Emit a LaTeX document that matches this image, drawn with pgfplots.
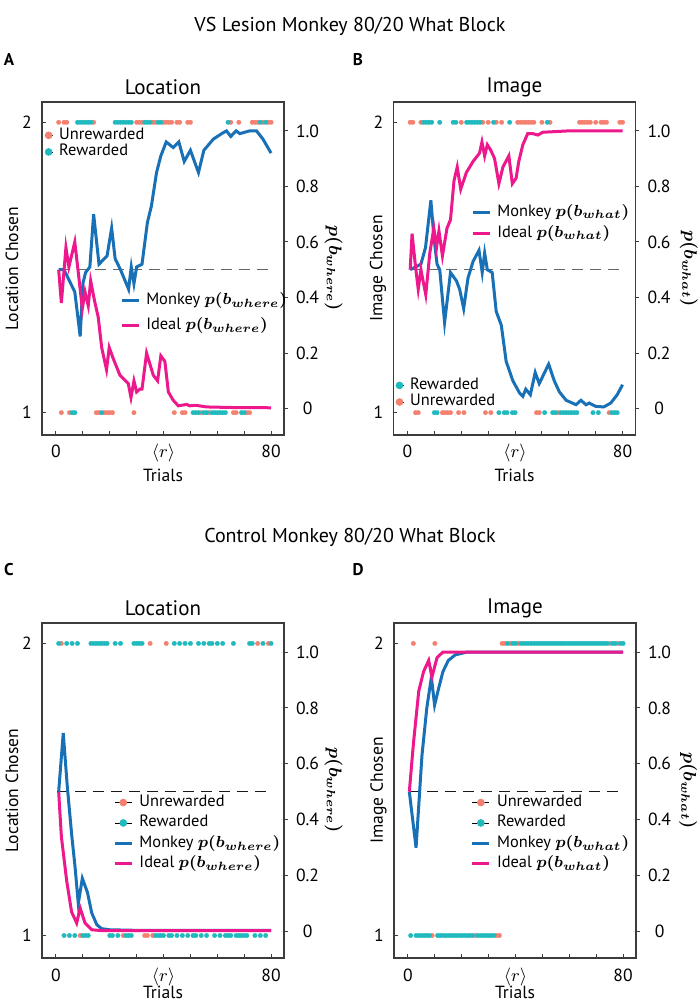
\documentclass[border=0pt]{standalone}
\usepackage{fontspec}
\setmainfont{PT Sans}
\usepackage{bm}
\usepackage{pgfplots}
\pgfplotsset{compat=1.18}
\definecolor{mblue}{RGB}{24,112,182}
\definecolor{mpink}{RGB}{236,24,140}
\definecolor{salm}{RGB}{244,128,112}
\definecolor{tealc}{RGB}{32,186,190}
\definecolor{axc}{RGB}{60,60,60}
\pgfplotsset{
  panel/.style={scale only axis, width=121pt, xmin=-5.2, xmax=84.8,
     axis line style={axc, line width=0.6pt}, tick style={axc, line width=0.5pt},
     major tick length=1.8pt, tick align=inside,
     font=\fontsize{8.8}{10}\selectfont,
     legend cell align=left,
     legend style={draw=none, fill=none, inner xsep=0pt, inner ysep=0pt, column sep=2.5pt,
        nodes={inner sep=0.6pt, text height=5.5pt, text depth=1.6pt},
        font=\fontsize{8.2}{9.6}\selectfont, anchor=north west}},
  leftax/.style={panel, ymin=0.923, ymax=2.07, ytick={1,2}, yticklabels={1,2},
     xtick={0,10,20,30,40,50,60,70,80}, xticklabels={0,,,,{$\langle r\rangle$},,,,80},
     xtick pos=left, ytick pos=left,
     yticklabel style={anchor=center, xshift=-7.5pt},
     xticklabel style={anchor=base, yshift=-11.5pt},
     xlabel={Trials},
     every axis title shift=0pt,
     title style={at={(axis description cs:0.5,1.043)}, anchor=center, font=\fontsize{10.5}{12}\selectfont}},
  rightax/.style={panel, ymin=-0.095, ymax=1.104, axis y line*=right, hide x axis,
     tick align=outside,
     ytick={0,0.2,0.4,0.6,0.8,1}, yticklabels={0,0.2,0.4,0.6,0.8,1.0},
     yticklabel style={anchor=center, xshift=10pt}},
  pdots/.style={only marks, color=#1, mark=*, mark size=1.15pt, mark options={draw=#1, fill=#1, line width=0.1pt}, forget plot},
  pcurve/.style={color=#1, line width=1.5pt, forget plot},
  pmid/.style={color=#1, dash pattern=on 5.5pt off 3.5pt, line width=0.7pt, forget plot},
  sdot/.style={legend image code/.code={\path (0pt,0pt) -- (4pt,0pt); \fill[#1] (2pt,0pt) circle (1.7pt);}},
  wdot/.style={legend image code/.code={\path (0pt,0pt) -- (8.5pt,0pt); \fill[#1] (4.25pt,0pt) circle (1.7pt);}},
  lline/.style={legend image code/.code={\draw[#1, line width=1.5pt] (0pt,0pt) -- (8.5pt,0pt);}},
}
\begin{document}
\begin{tikzpicture}
\useasboundingbox (0,0) rectangle (350pt,503pt);
% ---------------- Panel A ----------------
\begin{axis}[leftax, at={(21pt,285.5pt)}, anchor=south west, height=166.5pt,
  title={Location}, ylabel={Location Chosen},
  xlabel style={at={(axis description cs:0.5,-0.12)}, anchor=center},
  ylabel style={at={(axis description cs:-0.124,0.5)}, anchor=center},
  legend style={at={(axis description cs:0.0075,0.926)}}]
\addplot[pdots=salm] coordinates {(1,2)(3,2)(4,2)(14,2)(30,2)(31,2)(32,2)(36,2)(37,2)(40,2)(41,2)(42,2)(43,2)(45,2)(46,2)(49,2)(50,2)(65,2)(68,2)(73,2)(74,2)(75,2)(77,2)(79,2)(80,2)
 (2,1)(5,1)(15,1)(16,1)(18,1)(19,1)(20,1)(21,1)(29,1)(44,1)(47,1)(48,1)(54,1)(57,1)(66,1)(67,1)(71,1)(72,1)};
\addplot[pdots=tealc] coordinates {(8,2)(9,2)(10,2)(11,2)(12,2)(13,2)(22,2)(23,2)(24,2)(25,2)(26,2)(27,2)(28,2)(33,2)(34,2)(35,2)(38,2)(39,2)(64,2)(76,2)(78,2)
 (6,1)(7,1)(17,1)(51,1)(52,1)(53,1)(55,1)(56,1)(58,1)(59,1)(60,1)(61,1)(62,1)(63,1)(69,1)(70,1)};
\addlegendimage{sdot=salm}
\addlegendentry{Unrewarded}
\addlegendimage{sdot=tealc}
\addlegendentry{Rewarded}
\end{axis}
\begin{axis}[rightax, at={(21pt,285.5pt)}, anchor=south west, height=166.5pt,
  ylabel={$\bm{p(b_{where})}$},
  ylabel style={at={(axis description cs:1.205,0.5)}, anchor=center, rotate=180},
  legend style={at={(axis description cs:0.321,0.430)}, row sep=4.2pt}]
\addplot[pmid=black!60] coordinates {(1,0.5)(80,0.5)};
\addplot[pcurve=mblue] coordinates {(1,0.5)(3,0.5)(5,0.46)(7,0.42)(9,0.26)(10,0.45)(11,0.49)(12.6,0.51)(14,0.70)(16,0.52)(19,0.55)(20.7,0.65)(22,0.54)(24,0.50)(27,0.43)(28,0.51)(29,0.45)(30,0.51)(32,0.52)(34,0.67)(35.5,0.73)(37.4,0.85)(39,0.91)(41,0.96)(43.6,0.94)(45.7,0.96)(47.7,0.89)(50,0.93)(53,0.85)(55,0.93)(58.5,0.97)(61.6,0.99)(63.4,1.0)(65,0.98)(67,1.0)(68.4,0.99)(72,1.0)(74.6,1.0)(77,0.97)(80,0.92)};
\addplot[pcurve=mpink] coordinates {(1,0.5)(2,0.38)(3.7,0.58)(4.8,0.51)(7,0.6)(8.3,0.49)(9.8,0.36)(10.8,0.42)(12,0.37)(12.9,0.46)(14.3,0.39)(15.7,0.33)(17,0.22)(18.8,0.14)(19.8,0.22)(21.3,0.18)(23.8,0.12)(26.9,0.09)(27.9,0.04)(29,0.10)(30,0.06)(31.2,0.07)(32,0.07)(33.7,0.20)(36.2,0.12)(37.8,0.10)(39,0.19)(40.5,0.17)(41.8,0.06)(43.6,0.03)(45.5,0.01)(48.6,0.015)(49.8,0.01)(52,0.012)(56,0.006)(65,0.004)(80,0.003)};
\addlegendimage{lline=mblue}
\addlegendentry{Monkey $\bm{p(b_{where})}$}
\addlegendimage{lline=mpink}
\addlegendentry{Ideal $\bm{p(b_{where})}$}
\end{axis}
% ---------------- Panel B ----------------
\begin{axis}[leftax, at={(196.75pt,285.5pt)}, anchor=south west, height=166.5pt,
  title={Image}, ylabel={Image Chosen},
  xlabel style={at={(axis description cs:0.5,-0.12)}, anchor=center},
  ylabel style={at={(axis description cs:-0.064,0.5)}, anchor=center},
  legend style={at={(axis description cs:0.005,0.175)}}]
\addplot[pdots=salm] coordinates {(1,2)(2,2)(5,2)(20,2)(28,2)(30,2)(33,2)(35,2)(41,2)(42,2)(43,2)(44,2)(45,2)(46,2)(47,2)(50,2)(53,2)(64,2)(65,2)(66,2)(67,2)(68,2)(70,2)(72,2)(73,2)(74,2)(79,2)(80,2)
 (3,1)(4,1)(13,1)(14,1)(15,1)(16,1)(19,1)(21,1)(29,1)(31,1)(48,1)(49,1)(56,1)(75,1)};
\addplot[pdots=tealc] coordinates {(6,2)(7,2)(8,2)(9,2)(12,2)(17,2)(18,2)(22,2)(23,2)(24,2)(25,2)(26,2)(27,2)(32,2)(38,2)(52,2)
 (10,1)(11,1)(34,1)(36,1)(37,1)(39,1)(40,1)(51,1)(54,1)(55,1)(57,1)(58,1)(59,1)(60,1)(61,1)(62,1)(63,1)(69,1)(71,1)(76,1)(77,1)(78,1)};
\addlegendimage{sdot=tealc}
\addlegendentry{Rewarded}
\addlegendimage{sdot=salm}
\addlegendentry{Unrewarded}
\end{axis}
\begin{axis}[rightax, at={(196.75pt,285.5pt)}, anchor=south west, height=166.5pt,
  ylabel={$\bm{p(b_{what})}$},
  ylabel style={at={(axis description cs:1.221,0.5)}, anchor=center, rotate=180},
  legend style={at={(axis description cs:0.319,0.695)}, row sep=2.2pt}]
\addplot[pmid=black!60] coordinates {(1,0.5)(80,0.5)};
\addplot[pcurve=mblue] coordinates {(1,0.5)(5,0.52)(6.7,0.58)(8.7,0.75)(9.8,0.62)(11,0.52)(12,0.5)(13.8,0.31)(16,0.49)(18.2,0.46)(19.4,0.43)(20.9,0.36)(22.5,0.47)(24.4,0.53)(26.6,0.57)(27.8,0.49)(28.7,0.56)(29.7,0.5)(31.5,0.49)(33,0.35)(34.9,0.30)(36.7,0.17)(39.2,0.10)(41.7,0.056)(42.9,0.044)(44,0.07)(45.7,0.05)(47.5,0.13)(49,0.09)(51.5,0.14)(52.5,0.16)(54.6,0.10)(56.5,0.06)(59,0.03)(62.7,0.014)(64.5,0.03)(66.4,0.014)(67.6,0.02)(70,0.008)(73,0.006)(75.6,0.02)(78,0.05)(80,0.086)};
\addplot[pcurve=mpink] coordinates {(1,0.5)(1.7,0.63)(3,0.51)(4,0.43)(5,0.5)(6.8,0.41)(8.3,0.56)(9.8,0.65)(10.8,0.58)(11.7,0.64)(13,0.55)(14.7,0.65)(16,0.68)(17.3,0.82)(18.5,0.87)(19.8,0.79)(21.9,0.85)(24.4,0.89)(26.8,0.92)(27.7,0.96)(28.7,0.91)(29.7,0.95)(31,0.93)(32.4,0.90)(34,0.81)(35.5,0.87)(37.7,0.91)(39,0.81)(40.4,0.83)(41.4,0.89)(42.9,0.95)(44.7,0.99)(46.6,0.99)(48.5,0.985)(50.3,0.995)(60,1.0)(80,1.0)};
\addlegendimage{lline=mblue}
\addlegendentry{Monkey $\bm{p(b_{what})}$}
\addlegendimage{lline=mpink}
\addlegendentry{Ideal $\bm{p(b_{what})}$}
\end{axis}
% ---------------- Panel C ----------------
\begin{axis}[leftax, at={(21pt,24pt)}, anchor=south west, height=167.5pt,
  title={Location}, ylabel={Location Chosen},
  xlabel style={at={(axis description cs:0.5,-0.104)}, anchor=center},
  ylabel style={at={(axis description cs:-0.124,0.5)}, anchor=center}]
\addplot[pdots=salm] coordinates {(2,2)(35,2)(41,2)(75,2)(79,2)(9,1)(25,1)(33,1)(34,1)(36,1)};
\addplot[pdots=tealc] coordinates {(1,2)(4,2)(6,2)(8,2)(13,2)(14,2)(15,2)(16,2)(17,2)(18,2)(19,2)(22,2)(24,2)(29,2)(30,2)(31,2)(32,2)(44,2)(46,2)(48,2)(50,2)(53,2)(55,2)(57,2)(58,2)(60,2)(62,2)(66,2)(72,2)(73,2)(77,2)(80,2)
 (3,1)(5,1)(7,1)(10,1)(11,1)(12,1)(20,1)(21,1)(23,1)(26,1)(27,1)(28,1)(37,1)(38,1)(39,1)(40,1)(42,1)(43,1)(45,1)(47,1)(49,1)(51,1)(52,1)(54,1)(56,1)(59,1)(61,1)(63,1)(64,1)(65,1)(67,1)(68,1)(69,1)(70,1)(71,1)(74,1)(76,1)(78,1)};
\end{axis}
\begin{axis}[rightax, at={(21pt,24pt)}, anchor=south west, height=167.5pt,
  ylabel={$\bm{p(b_{where})}$},
  ylabel style={at={(axis description cs:1.205,0.5)}, anchor=center, rotate=180},
  legend style={at={(axis description cs:0.293,0.490)}, row sep=1.9pt}]
\addplot[pmid=black!90] coordinates {(0.5,0.5)(80,0.5)};
\addplot[pcurve=mblue] coordinates {(1,0.5)(2.7,0.71)(4.2,0.52)(5.8,0.35)(7.1,0.23)(8.3,0.10)(9.8,0.19)(11.7,0.14)(13.3,0.066)(15.2,0.024)(17,0.01)(20,0.006)(30,0.004)(80,0.004)};
\addplot[pcurve=mpink] coordinates {(1,0.5)(2,0.34)(4,0.18)(5.8,0.07)(7.7,0.03)(9,0.084)(10.8,0.03)(13.3,0.006)(17,0.003)(80,0.003)};
\addlegendimage{wdot=salm}
\addlegendentry{Unrewarded}
\addlegendimage{wdot=tealc}
\addlegendentry{Rewarded}
\addlegendimage{lline=mblue}
\addlegendentry{Monkey $\bm{p(b_{where})}$}
\addlegendimage{lline=mpink}
\addlegendentry{Ideal $\bm{p(b_{where})}$}
\end{axis}
% ---------------- Panel D ----------------
\begin{axis}[leftax, at={(197pt,24pt)}, anchor=south west, height=167.5pt,
  title={Image}, ylabel={Image Chosen},
  xlabel style={at={(axis description cs:0.5,-0.104)}, anchor=center},
  ylabel style={at={(axis description cs:-0.064,0.5)}, anchor=center}]
\addplot[pdots=salm] coordinates {(2,2)(10,2)(35,2)(36,2)(38,2)(41,2)(75,2)(78,2)(9,1)(25,1)(33,1)(34,1)};
\addplot[pdots=tealc] coordinates {(37,2)(39,2)(40,2)(42,2)(43,2)(44,2)(45,2)(46,2)(47,2)(48,2)(49,2)(50,2)(51,2)(52,2)(53,2)(54,2)(55,2)(56,2)(57,2)(58,2)(59,2)(60,2)(61,2)(62,2)(63,2)(64,2)(65,2)(66,2)(67,2)(68,2)(69,2)(70,2)(71,2)(72,2)(73,2)(74,2)(76,2)(77,2)(79,2)(80,2)
 (1,1)(3,1)(4,1)(5,1)(6,1)(7,1)(8,1)(11,1)(12,1)(13,1)(14,1)(15,1)(16,1)(17,1)(18,1)(19,1)(20,1)(21,1)(22,1)(23,1)(24,1)(26,1)(27,1)(28,1)(29,1)(30,1)(31,1)(32,1)};
\end{axis}
\begin{axis}[rightax, at={(197pt,24pt)}, anchor=south west, height=167.5pt,
  ylabel={$\bm{p(b_{what})}$},
  ylabel style={at={(axis description cs:1.215,0.5)}, anchor=center, rotate=180},
  legend style={at={(axis description cs:0.316,0.490)}, row sep=1.9pt}]
\addplot[pmid=black!90] coordinates {(0.5,0.5)(80,0.5)};
\addplot[pcurve=mblue] coordinates {(0.5,0.5)(3,0.3)(5.2,0.63)(7,0.8)(8.7,0.91)(9.9,0.81)(11.4,0.87)(13,0.93)(15,0.97)(17.6,0.99)(22,1.0)(80,1.0)};
\addplot[pcurve=mpink] coordinates {(0.5,0.5)(2,0.67)(4,0.86)(5.8,0.93)(7.7,0.97)(8.9,0.91)(10.8,0.98)(13,1.0)(80,1.0)};
\addlegendimage{wdot=salm}
\addlegendentry{Unrewarded}
\addlegendimage{wdot=tealc}
\addlegendentry{Rewarded}
\addlegendimage{lline=mblue}
\addlegendentry{Monkey $\bm{p(b_{what})}$}
\addlegendimage{lline=mpink}
\addlegendentry{Ideal $\bm{p(b_{what})}$}
\end{axis}
% ---------------- titles and letters ----------------
\node[font=\fontsize{10}{12}\selectfont] at (175pt,490pt) {VS Lesion Monkey 80/20 What Block};
\node[font=\fontsize{10}{12}\selectfont] at (175pt,234.5pt) {Control Monkey 80/20 What Block};
\node[font=\bfseries\fontsize{8.5}{10}\selectfont] at (4.5pt,473pt) {A};
\node[font=\bfseries\fontsize{8.5}{10}\selectfont] at (179pt,473pt) {B};
\node[font=\bfseries\fontsize{8.5}{10}\selectfont] at (4.5pt,218pt) {C};
\node[font=\bfseries\fontsize{8.5}{10}\selectfont] at (179pt,218pt) {D};
\end{tikzpicture}
\end{document}
